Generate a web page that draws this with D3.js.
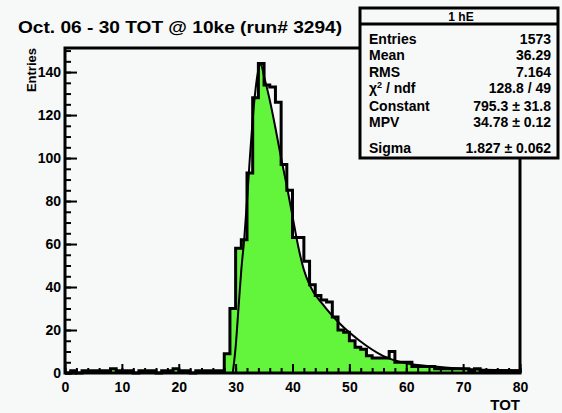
<!DOCTYPE html>
<html>
<head>
<meta charset="utf-8">
<title>TOT run 3294</title>
<script src="https://d3js.org/d3.v7.min.js"></script>
<style>
  body { margin: 0; background: #f7f8f8; }
  svg { display: block; font-family: "Liberation Sans", Arial, sans-serif; font-weight: bold; }
</style>
</head>
<body>
<svg width="562" height="413"></svg>
<script>
// entries per TOT bin, bins of width 1 from 0 to 80
var counts = [
  0, 1, 0, 1, 1, 1, 1, 1, 2, 1,
  1, 1, 0, 1, 1, 1, 0, 1, 1, 2,
  1, 1, 0, 1, 1, 1, 1, 1, 9, 30,
  58, 62, 93, 128, 144, 134, 133, 126, 97, 85,
  63, 63, 52, 41, 36, 34, 33, 26, 20, 19,
  15, 12, 11, 8, 7, 7, 7, 10, 5, 5,
  5, 3, 3, 3, 3, 2, 2, 2, 2, 2,
  2, 1, 2, 1, 1, 1, 1, 1, 1, 1
];

// landau fit curve
var fitX = [29.5, 30, 30.5, 31, 31.5, 32, 32.5, 33, 33.5, 34, 34.4, 35, 36, 37, 38, 39, 40, 41, 42, 43, 45.3, 48.3, 51.8, 55.9, 60, 65, 70, 80];
var fitY = [0, 12, 30, 48, 62, 80, 100, 118, 132, 141, 144, 138, 127, 114, 100, 87, 73, 59, 48, 41, 32, 23, 15, 8, 4.5, 3, 2, 1.2];

var xTicks = [0, 10, 20, 30, 40, 50, 60, 70, 80];
var yTicks = [0, 20, 40, 60, 80, 100, 120, 140];

var statNames = ["Entries", "Mean", "RMS", "chi2", "Constant", "MPV", "Sigma"];
var statValues = ["1573", "36.29", "7.164", "128.8 / 49", "795.3 \u00b1 31.8", "34.78 \u00b1 0.12", "1.827 \u00b1 0.062"];
var statRows = [39, 55, 72, 88, 106, 122, 148];

var svg = d3.select("svg");
var bg = "#f7f8f8";
svg.append("rect").attr("width", 562).attr("height", 413).attr("fill", bg);

var x = d3.scaleLinear().domain([0, 80]).range([65, 520]);
var y = d3.scaleLinear().domain([0, 151.2]).range([373, 48]);

// step points for the histogram
var steps = counts.map(function(c, i) { return [i, c]; });
steps.push([80, counts[79]]);

// green fill: histogram area, cut by the fit curve right of the peak
var defs = svg.append("defs");
var clip = defs.append("clipPath").attr("id", "fitclip");
clip.append("path")
    .attr("d", d3.area()
      .x(function(d, i) { return x(fitX[i]); })
      .y0(y(0))
      .y1(function(d, i) { return y(fitY[i]); })
      .curve(d3.curveMonotoneX)(fitX));
clip.append("rect")
    .attr("x", x(0)).attr("y", y(151.2))
    .attr("width", x(34) - x(0)).attr("height", y(0) - y(151.2));

svg.append("path")
    .attr("clip-path", "url(#fitclip)")
    .attr("fill", "#63f53c")
    .attr("d", d3.area()
      .x(function(d) { return x(d[0]); })
      .y0(y(0))
      .y1(function(d) { return y(d[1]); })
      .curve(d3.curveStepAfter)(steps));

// histogram outline
var outline = [[0, 0]].concat(steps).concat([[80, 0]]);
svg.append("path")
    .attr("fill", "none")
    .attr("stroke", "#000")
    .attr("stroke-width", 3)
    .attr("d", d3.line()
      .x(function(d) { return x(d[0]); })
      .y(function(d) { return y(d[1]); })
      .curve(d3.curveStepAfter)(outline));

// fit curve
svg.append("path")
    .attr("fill", "none")
    .attr("stroke", "#000")
    .attr("stroke-width", 2)
    .attr("d", d3.line()
      .x(function(d, i) { return x(fitX[i]); })
      .y(function(d, i) { return y(fitY[i]); })
      .curve(d3.curveMonotoneX)(fitX));

// axes
function style(g, w) {
  g.select(".domain").remove();
  g.selectAll(".tick line").attr("stroke", "#000").attr("stroke-width", w);
  g.selectAll("text").attr("fill", "#000").attr("font-size", 14).attr("font-weight", "bold")
    .attr("font-family", "'Liberation Sans', Arial, sans-serif");
}

svg.append("g").attr("transform", "translate(0," + y(0) + ")")
    .call(d3.axisBottom(x).tickValues(d3.range(0, 81, 2)).tickSize(-5).tickFormat(""))
    .call(style, 2);
svg.append("g").attr("transform", "translate(0," + y(0) + ")")
    .call(d3.axisBottom(x).tickValues(xTicks).tickSize(-9).tickPadding(9).tickFormat(d3.format("d")))
    .call(style, 2);

svg.append("g").attr("transform", "translate(" + x(0) + ",0)")
    .call(d3.axisLeft(y).tickValues(d3.range(0, 151, 5)).tickSize(-6).tickFormat(""))
    .call(style, 2);
svg.append("g").attr("transform", "translate(" + x(0) + ",0)")
    .call(d3.axisLeft(y).tickValues(yTicks).tickSize(-12).tickPadding(4).tickFormat(d3.format("d")))
    .call(style, 2);

// frame
svg.append("rect")
    .attr("x", x(0)).attr("y", y(151.2))
    .attr("width", x(80) - x(0)).attr("height", y(0) - y(151.2))
    .attr("fill", "none").attr("stroke", "#000").attr("stroke-width", 3);

// axis titles
svg.append("text")
    .attr("x", x(80)).attr("y", 410)
    .attr("text-anchor", "end").attr("font-size", 15)
    .text("TOT");
svg.append("text")
    .attr("transform", "translate(36,48) rotate(-90)")
    .attr("text-anchor", "end").attr("font-size", 13)
    .text("Entries");

// title
svg.append("text")
    .attr("x", 18).attr("y", 33)
    .attr("font-size", 17)
    .attr("textLength", 324).attr("lengthAdjust", "spacingAndGlyphs")
    .text("Oct. 06 - 30 TOT @ 10ke (run# 3294)");

// stats box
var box = svg.append("g");
box.append("rect")
    .attr("x", 360).attr("y", 8).attr("width", 198).attr("height", 150)
    .attr("fill", bg).attr("stroke", "#000").attr("stroke-width", 3);
box.append("line")
    .attr("x1", 360).attr("x2", 558).attr("y1", 24).attr("y2", 24)
    .attr("stroke", "#000").attr("stroke-width", 3);
box.append("text")
    .attr("x", 461).attr("y", 21).attr("text-anchor", "middle").attr("font-size", 12)
    .text("1 hE");

statNames.forEach(function(n, i) {
  var t = box.append("text").attr("x", 369).attr("y", statRows[i] + 5).attr("font-size", 14);
  if (n === "chi2") {
    t.append("tspan").text("\u03c7");
    t.append("tspan").attr("dy", -5).attr("font-size", 9).text("2");
    t.append("tspan").attr("dy", 5).text(" / ndf");
  } else {
    t.text(n);
  }
  box.append("text")
      .attr("x", 551).attr("y", statRows[i] + 5)
      .attr("text-anchor", "end").attr("font-size", 14)
      .text(statValues[i]);
});
</script>
</body>
</html>
